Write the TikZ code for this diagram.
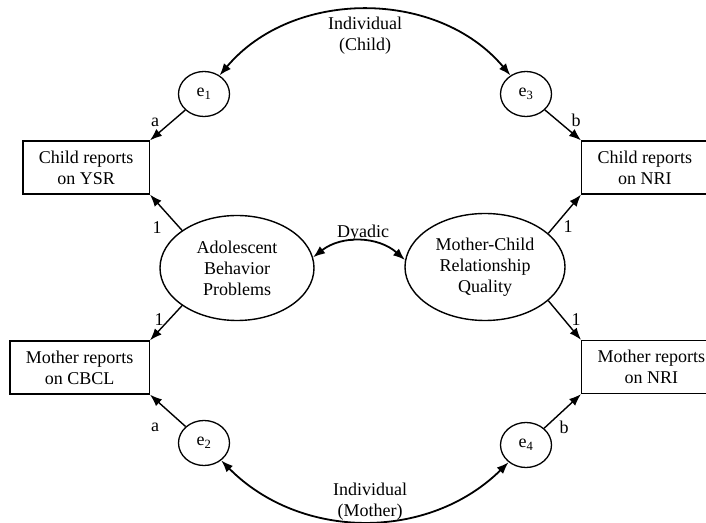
\documentclass[tikz,border=0pt]{standalone}
\usepackage{fontspec}
\setmainfont{Liberation Serif}
\usetikzlibrary{arrows.meta,shapes.geometric}
\tikzset{
  node-obs/.style={draw,line width=1.3pt,minimum height=53pt,inner xsep=16pt,align=center},
  node-latent/.style={draw,ellipse,line width=1.4pt,inner sep=0pt,align=center},
  node-err/.style={draw,ellipse,line width=1.3pt,minimum width=51pt,minimum height=45pt,inner sep=0pt},
  node-lbl/.style={inner sep=0pt},
  arrow/.style={-{Latex[length=12pt,width=9pt]},line width=1.4pt},
  arrow-cov/.style={{Latex[length=12pt,width=9pt]}-{Latex[length=12pt,width=9pt]},line width=1.8pt},
}

\begin{document}
\begin{tikzpicture}[x=1pt,y=1pt,every node/.style={font=\fontsize{18}{21}\selectfont}]
  \useasboundingbox (0,0) rectangle (706,522);
  % latent factors
  \node[node-latent,minimum width=154pt,minimum height=105pt] (abp) at (237,254) {Adolescent\\Behavior\\Problems};
  \node[node-latent,minimum width=160pt,minimum height=107pt] (mcr) at (485,255) {Mother-Child\\Relationship\\Quality};

  % indicators
  \node[node-obs,anchor=east] (ysr) at (150,354.5) {Child reports\\on YSR};
  \node[node-obs,anchor=east] (cbcl) at (150,154.5) {Mother reports\\on CBCL};
  \node[node-obs,anchor=west] (nric) at (581,354.5) {Child reports\\on NRI};
  \node[node-obs,anchor=west] (nrim) at (581,155) {Mother reports\\on NRI};

  % residuals
  \node[node-err] (e1) at (204,428) {e\textsubscript{1}};
  \node[node-err] (e3) at (526,428) {e\textsubscript{3}};
  \node[node-err] (e2) at (204,79) {e\textsubscript{2}};
  \node[node-err] (e4) at (526,77) {e\textsubscript{4}};

  % loadings
  \draw[arrow] (abp.north west) -- (ysr.south east);
  \draw[arrow] (abp.south west) -- (cbcl.north east);
  \draw[arrow] (mcr.28) -- (nric.south west);
  \draw[arrow] (mcr.-28) -- (nrim.north west);
  \draw[arrow] (e1) -- (ysr.north east);
  \draw[arrow] (e2) -- (cbcl.south east);
  \draw[arrow] (e3) -- (nric.north west);
  \draw[arrow] (e4) -- (nrim.south west);
  \node[node-lbl] (la1) at (155,400) {a};
  \node[node-lbl] (la2) at (155,95) {a};
  \node[node-lbl] (lb1) at (576,402) {b};
  \node[node-lbl] (lb2) at (564,95) {b};
  \node[node-lbl] (l1) at (157,294) {1};
  \node[node-lbl] (l2) at (159,202) {1};
  \node[node-lbl] (l3) at (568,295) {1};
  \node[node-lbl] (l4) at (576,202) {1};

  % covariances
  \draw[arrow-cov] (e1) to[bend left=50] (e3);
  \draw[arrow-cov] (e2) to[bend right=45] (e4);
  \draw[arrow-cov] (abp.8) to[bend left=40] (mcr.175);
  \node[node-lbl,align=center] (indc) at (365,486) {Individual\\(Child)};
  \node[node-lbl,align=center] (indm) at (370,20) {Individual\\(Mother)};
  \node[node-lbl] (dya) at (363,289) {Dyadic};
\end{tikzpicture}
\end{document}
